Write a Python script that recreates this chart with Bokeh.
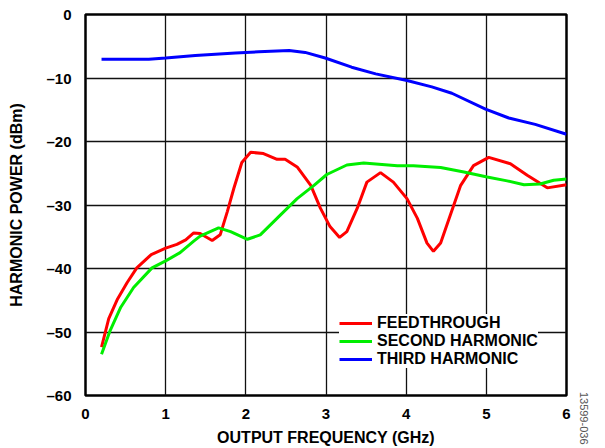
from bokeh.plotting import figure
from bokeh.models import Range1d, FixedTicker, Legend, LegendItem, Title
from bokeh.embed import file_html
from bokeh.resources import INLINE

# ---- data ----
feed_f = [0.2, 0.29, 0.40, 0.52, 0.64, 0.82, 1.0, 1.14, 1.25, 1.35, 1.43, 1.58, 1.68,
          1.77, 1.85, 1.95, 2.06, 2.22, 2.39, 2.49, 2.64, 2.81, 2.93, 3.05, 3.17,
          3.26, 3.39, 3.51, 3.68, 3.84, 4.01, 4.14, 4.26, 4.34, 4.43, 4.55, 4.68,
          4.84, 5.03, 5.30, 5.51, 5.76, 6.0]
feed_db = [-52.4, -47.9, -44.8, -42.2, -39.9, -37.8, -36.8, -36.2, -35.5, -34.4, -34.5,
           -35.6, -34.7, -31.0, -27.4, -23.3, -21.7, -21.9, -22.8, -22.8, -24.0, -26.9,
           -30.5, -33.4, -35.1, -34.2, -30.5, -26.4, -24.9, -26.4, -29.0, -32.1, -36.0,
           -37.3, -36.0, -31.6, -26.9, -23.8, -22.5, -23.5, -25.3, -27.3, -26.8]

second_f = [0.2, 0.31, 0.44, 0.6, 0.83, 1.0, 1.18, 1.35, 1.43, 1.66, 1.81, 2.02, 2.18,
            2.43, 2.64, 2.85, 3.01, 3.26, 3.47, 3.89, 4.09, 4.43, 4.72, 5.01, 5.26,
            5.47, 5.67, 5.84, 6.0]
second_db = [-53.5, -49.7, -46.1, -43.0, -39.9, -38.8, -37.5, -35.7, -34.9, -33.6, -34.2,
             -35.4, -34.7, -31.6, -29.0, -26.9, -25.2, -23.7, -23.4, -23.8, -23.8, -24.1,
             -24.8, -25.6, -26.2, -26.8, -26.7, -26.1, -25.9]

third_f = [0.2, 0.79, 1.0, 1.37, 1.87, 2.16, 2.54, 2.74, 2.99, 3.32, 3.62, 4.01, 4.32,
           4.57, 4.99, 5.28, 5.61, 6.0]
third_db = [-7.06, -7.06, -6.85, -6.44, -6.07, -5.87, -5.66, -5.97, -6.85, -8.3, -9.35,
            -10.4, -11.4, -12.4, -14.9, -16.3, -17.3, -18.85]

x_ticks = [0, 1, 2, 3, 4, 5, 6]
y_ticks = [-60, -50, -40, -30, -20, -10, 0]
series_names = ["FEEDTHROUGH", "SECOND HARMONIC", "THIRD HARMONIC"]
series_colors = ["#ff0000", "#00ee00", "#0000ff"]
figure_id = "13599-036"

FONT = "Liberation Sans"

p = figure(width=605, height=448, output_backend="svg", toolbar_location=None,
           x_range=Range1d(0, 6), y_range=Range1d(-60, 0),
           min_border_left=85, min_border_right=39, min_border_top=14, min_border_bottom=50)

p.outline_line_color = "black"
p.outline_line_width = 2.5
p.background_fill_color = "white"
p.border_fill_color = "white"

for ax in (p.xaxis[0], p.yaxis[0]):
    ax.axis_line_color = None
    ax.major_tick_line_color = None
    ax.minor_tick_line_color = None
    ax.major_label_text_font = FONT
    ax.major_label_text_font_style = "bold"
    ax.major_label_text_font_size = "15px"
    ax.major_label_text_color = "black"
    ax.axis_label_text_font = FONT
    ax.axis_label_text_font_style = "bold"
    ax.axis_label_text_font_size = "16px"
    ax.axis_label_text_color = "black"

p.xaxis.ticker = FixedTicker(ticks=x_ticks)
p.yaxis.ticker = FixedTicker(ticks=y_ticks)
p.yaxis.major_label_overrides = {t: ("\u2013%d" % -t if t < 0 else "0") for t in y_ticks}
p.xaxis.axis_label = "OUTPUT FREQUENCY (GHz)"
p.yaxis.axis_label = "HARMONIC POWER (dBm)"
p.xaxis.major_label_standoff = 7
p.yaxis.major_label_standoff = 8
p.xaxis.axis_label_standoff = 7
p.yaxis.axis_label_standoff = 18

p.xgrid.ticker = FixedTicker(ticks=x_ticks)
p.ygrid.ticker = FixedTicker(ticks=y_ticks)
for g in (p.xgrid[0], p.ygrid[0]):
    g.grid_line_color = "#111111"
    g.grid_line_width = 1.3

r1 = p.line(feed_f, feed_db, line_color=series_colors[0], line_width=3)
r2 = p.line(second_f, second_db, line_color=series_colors[1], line_width=3)
r3 = p.line(third_f, third_db, line_color=series_colors[2], line_width=3)

legend = Legend(items=[LegendItem(label=series_names[0], renderers=[r1]),
                       LegendItem(label=series_names[1], renderers=[r2]),
                       LegendItem(label=series_names[2], renderers=[r3])],
                location=(254, 27))
legend.label_text_font = FONT
legend.label_text_font_style = "bold"
legend.label_text_font_size = "16px"
legend.label_text_color = "black"
legend.border_line_color = None
legend.background_fill_color = "white"
legend.background_fill_alpha = 1.0
legend.padding = 6
legend.spacing = 0
legend.margin = 0
legend.glyph_width = 33
legend.glyph_height = 18
legend.label_height = 18
legend.label_standoff = 5
p.add_layout(legend, "center")

# figure id, in the right panel, below the frame's bottom edge
p.add_layout(Title(text=figure_id, align="right", offset=-49, text_font=FONT,
                   text_font_size="11px", text_font_style="normal",
                   text_color="#555555", standoff=26), "right")

open("out.html", "w").write(file_html(p, INLINE))
